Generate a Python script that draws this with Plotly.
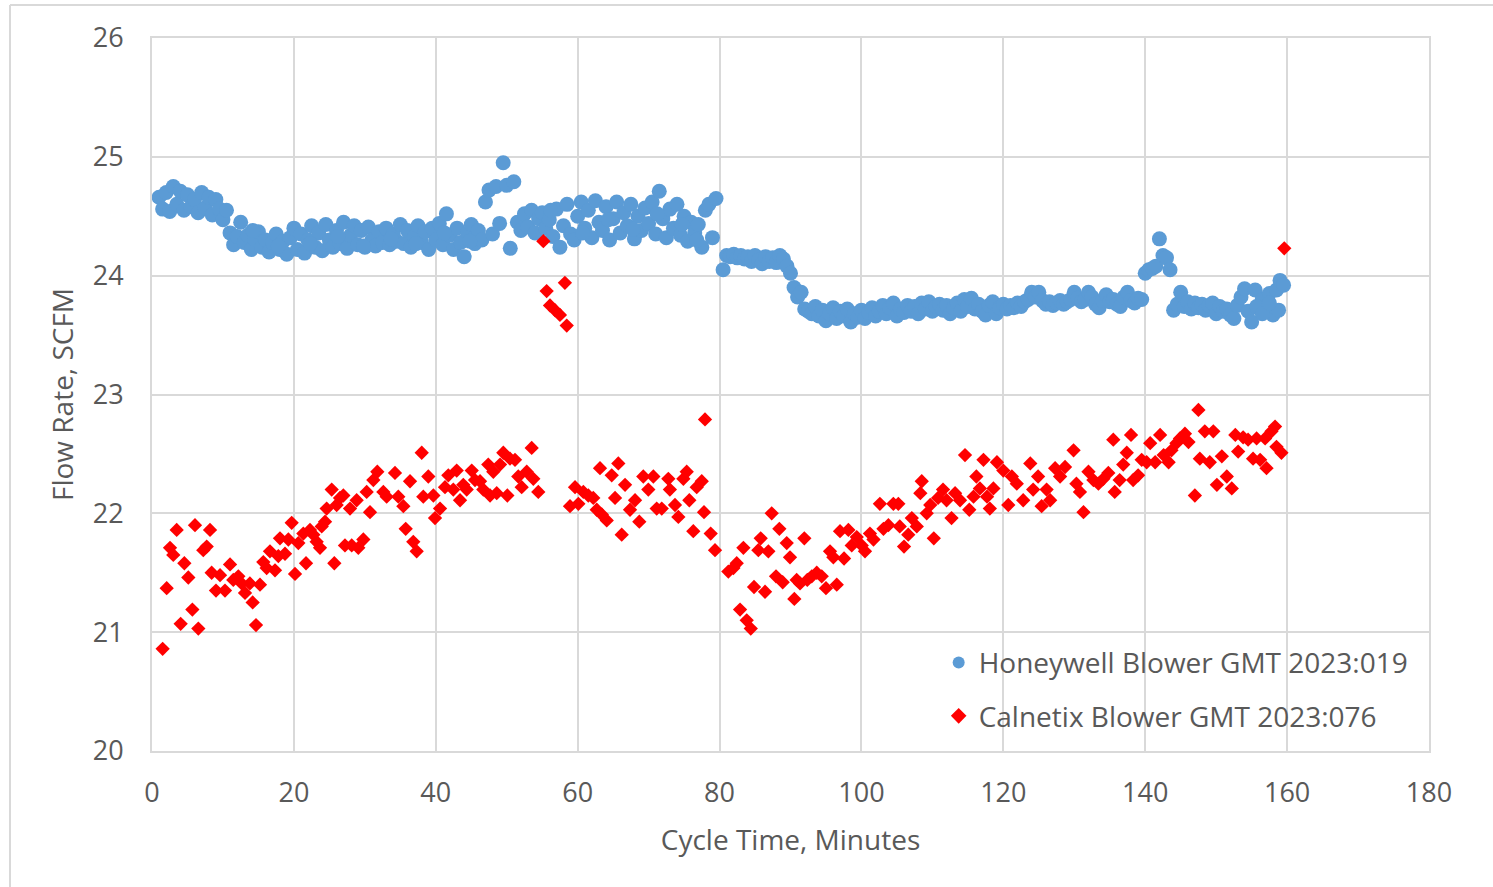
import plotly.graph_objects as go

# ---------------- data ----------------
hw_x = [
    1.0, 1.5, 2.0, 2.5, 3.0, 3.5, 4.0, 4.5, 5.0, 5.5, 6.0, 6.5, 7.0, 7.5, 8.0, 8.5, 9.0, 9.5,
    10.0, 10.5, 11.0, 11.5, 12.0, 12.5, 13.0, 13.5, 14.0, 14.5, 15.0, 15.5, 16.0, 16.5, 17.0, 17.5, 18.0, 18.5, 19.0, 19.5,
    20.0, 20.5, 21.0, 21.5, 22.0, 22.5, 23.0, 23.5, 24.0, 24.5, 25.0, 25.5, 26.0, 26.5, 27.0, 27.5, 28.0, 28.5, 29.0, 29.5,
    30.0, 30.5, 31.0, 31.5, 32.0, 32.5, 33.0, 33.5, 34.0, 34.5, 35.0, 35.5, 36.0, 36.5, 37.0, 37.5, 38.0, 38.5, 39.0, 39.5,
    40.0, 40.5, 41.0, 41.5, 42.0, 42.5, 43.0, 43.5, 44.0, 44.5, 45.0, 45.5, 46.0, 46.5, 47.0, 47.5, 48.0, 48.5, 49.0, 49.5,
    50.0, 50.5, 51.0, 51.5, 52.0, 52.5, 53.0, 53.5, 54.0, 54.5, 55.0, 55.5, 56.0, 56.5, 57.0, 57.5, 58.0, 58.5, 59.0, 59.5,
    60.0, 60.5, 61.0, 61.5, 62.0, 62.5, 63.0, 63.5, 64.0, 64.5, 65.0, 65.5, 66.0, 66.5, 67.0, 67.5, 68.0, 68.5, 69.0, 69.5,
    70.0, 70.5, 71.0, 71.5, 72.0, 72.5, 73.0, 73.5, 74.0, 74.5, 75.0, 75.5, 76.0, 76.5, 77.0, 77.5, 78.0, 78.5, 79.0, 79.5,
    80.5, 81.0, 81.5, 82.0, 82.5, 83.0, 83.5, 84.0, 84.5, 85.0, 85.5, 86.0, 86.5, 87.0, 87.5, 88.0, 88.5, 89.0, 89.5, 90.0,
    90.5, 91.0, 91.5, 92.0, 92.5, 93.0, 93.5, 94.0, 94.5, 95.0, 95.5, 96.0, 96.5, 97.0, 97.5, 98.0, 98.5, 99.0, 99.5, 100.0,
    100.5, 101.0, 101.5, 102.0, 102.5, 103.0, 103.5, 104.0, 104.5, 105.0, 105.5, 106.0, 106.5, 107.0, 107.5, 108.0, 108.5, 109.0, 109.5, 110.0,
    110.5, 111.0, 111.5, 112.0, 112.5, 113.0, 113.5, 114.0, 114.5, 115.0, 115.5, 116.0, 116.5, 117.0, 117.5, 118.0, 118.5, 119.0, 119.5, 120.0,
    120.5, 121.0, 121.5, 122.0, 122.5, 123.0, 123.5, 124.0, 124.5, 125.0, 125.5, 126.0, 126.5, 127.0, 127.5, 128.0, 128.5, 129.0, 129.5, 130.0,
    130.5, 131.0, 131.5, 132.0, 132.5, 133.0, 133.5, 134.0, 134.5, 135.0, 135.5, 136.0, 136.5, 137.0, 137.5, 138.0, 138.5, 139.0, 139.5,
    140.0, 140.5, 141.0, 141.5, 142.0, 142.5, 143.0, 143.5, 144.0, 144.5, 145.0, 145.5, 146.0, 146.5, 147.0, 147.5, 148.0, 148.5, 149.0, 149.5,
    150.0, 150.5, 151.0, 151.5, 152.0, 152.5, 153.0, 153.5, 154.0, 154.5, 155.0, 155.5, 156.0, 156.5, 157.0, 157.5, 158.0, 158.5, 159.0, 159.5,
    155.7, 158.8, 156.5, 157.5,
    14.2, 17.8, 22.3, 26.2, 29.8, 33.7, 37.2, 41.2, 44.8, 56.2, 60.7, 64.3, 67.8, 71.2, 74.7, 76.8,
]
hw_y = [
    24.66, 24.56, 24.70, 24.54, 24.75, 24.60, 24.71, 24.55, 24.68, 24.58, 24.64, 24.53, 24.70, 24.57, 24.66, 24.51, 24.64, 24.56,
    24.47, 24.55, 24.36, 24.26, 24.33, 24.45, 24.28, 24.34, 24.22, 24.31, 24.37, 24.24, 24.30, 24.20, 24.28, 24.35, 24.22, 24.29, 24.18, 24.32,
    24.40, 24.22, 24.35, 24.19, 24.30, 24.42, 24.24, 24.36, 24.21, 24.43, 24.30, 24.24, 24.38, 24.27, 24.45, 24.23, 24.34, 24.42, 24.26, 24.38,
    24.24, 24.41, 24.30, 24.25, 24.37, 24.28, 24.40, 24.26, 24.35, 24.29, 24.43, 24.27, 24.38, 24.24, 24.33, 24.42, 24.28, 24.37, 24.22, 24.40,
    24.30, 24.44, 24.26, 24.52, 24.34, 24.22, 24.40, 24.28, 24.16, 24.36, 24.43, 24.27, 24.38, 24.30, 24.62, 24.72, 24.35, 24.75, 24.44, 24.95,
    24.76, 24.23, 24.79, 24.45, 24.38, 24.52, 24.41, 24.55, 24.36, 24.48, 24.53, 24.40, 24.47, 24.33, 24.56, 24.24, 24.42, 24.60, 24.35, 24.30,
    24.50, 24.62, 24.40, 24.55, 24.32, 24.63, 24.45, 24.38, 24.58, 24.30, 24.48, 24.62, 24.36, 24.53, 24.42, 24.60, 24.31, 24.50, 24.38, 24.57,
    24.44, 24.62, 24.35, 24.71, 24.48, 24.32, 24.56, 24.40, 24.60, 24.34, 24.50, 24.29, 24.45, 24.36, 24.43, 24.24, 24.55, 24.60, 24.32, 24.65,
    24.05, 24.17, 24.16, 24.18, 24.15, 24.17, 24.14, 24.16, 24.12, 24.17, 24.13, 24.10, 24.16, 24.12, 24.15, 24.11, 24.17, 24.14, 24.08, 24.02,
    23.90, 23.82, 23.86, 23.72, 23.70, 23.68, 23.74, 23.66, 23.71, 23.62, 23.68, 23.73, 23.64, 23.70, 23.66, 23.72, 23.61, 23.68, 23.65, 23.71,
    23.64, 23.69, 23.73, 23.66, 23.70, 23.75, 23.68, 23.73, 23.77, 23.66, 23.72, 23.69, 23.75, 23.70, 23.74, 23.68, 23.77, 23.72, 23.78, 23.70,
    23.74, 23.76, 23.71, 23.75, 23.68, 23.73, 23.77, 23.70, 23.80, 23.74, 23.81, 23.72, 23.76, 23.70, 23.67, 23.75, 23.78, 23.68, 23.73, 23.76,
    23.72, 23.75, 23.73, 23.77, 23.74, 23.78, 23.80, 23.86, 23.82, 23.86, 23.79, 23.76, 23.78, 23.75, 23.77, 23.79, 23.76, 23.78, 23.80, 23.86,
    23.81, 23.78, 23.80, 23.86, 23.82, 23.76, 23.73, 23.79, 23.84, 23.78, 23.80, 23.76, 23.74, 23.82, 23.86, 23.79, 23.77, 23.81, 23.80,
    24.02, 24.05, 24.06, 24.08, 24.31, 24.17, 24.15, 24.05, 23.71, 23.76, 23.86, 23.74, 23.78, 23.72, 23.77, 23.73, 23.76, 23.71, 23.75, 23.77,
    23.68, 23.74, 23.70, 23.72, 23.67, 23.64, 23.75, 23.82, 23.89, 23.70, 23.61, 23.88, 23.74, 23.80, 23.70, 23.85, 23.67, 23.88, 23.96, 23.92,
    23.74, 23.71, 23.68, 23.77,
    24.38, 24.25, 24.27, 24.33, 24.25, 24.31, 24.27, 24.36, 24.29, 24.55, 24.36, 24.47, 24.39, 24.52, 24.43, 24.30,
]

cx_x = [
    1.5, 2.07, 2.54, 3.0, 3.48, 4.04, 4.56, 5.12, 5.69, 6.06, 6.53, 7.23, 7.71, 8.18, 8.41, 9.02, 9.59, 10.29,
    11.0, 11.46, 12.17, 12.64, 13.11, 13.8, 14.19, 14.66, 15.22, 15.69, 16.16, 16.63, 17.34, 17.81, 18.04, 18.75,
    19.22, 19.69, 20.16, 20.63, 21.33, 21.71, 22.27, 22.74, 23.21, 23.68, 23.92, 24.39, 24.62, 25.33, 25.70, 26.03,
    26.5, 26.97, 27.2, 27.91, 28.15, 28.85, 29.08, 29.79, 30.26, 30.73, 31.2, 31.76, 32.61, 33.08, 34.25, 34.72,
    35.43, 35.76, 36.37, 36.83, 37.31, 38.02, 38.24, 38.95, 39.66, 39.89,
    40.6, 41.3, 41.77, 42.47, 42.95, 43.42, 43.88, 44.36, 45.07, 45.53, 46.24, 46.7, 47.4, 47.65, 48.11, 48.59,
    49.06, 49.52, 50.09, 50.46, 51.17, 51.63, 52.11, 52.82, 53.52, 53.75, 54.45,
    55.16, 55.63, 56.1, 56.8, 57.5, 58.2, 58.46,
    58.92, 59.63, 60.1, 60.8, 61.5, 62.2, 62.69, 63.15, 63.4, 64.1, 64.8, 65.27, 65.73, 66.21, 66.68, 67.38,
    68.09, 68.69, 69.25, 69.96, 70.67, 71.14, 71.85, 72.78, 73.0, 73.72, 74.19, 74.9, 75.37, 75.74, 76.3, 76.78,
    77.49, 77.95, 77.81, 78.75, 79.36,
    81.24, 81.95, 82.42, 82.89, 83.36, 83.83, 84.4, 84.86, 85.47, 85.8, 86.41, 86.88, 87.35, 87.96, 88.43, 88.9,
    89.47, 89.93, 90.54, 90.87, 91.34, 91.95, 92.37, 93.0, 93.7, 94.4, 95.0, 95.57, 96.04, 96.52, 96.98, 97.55,
    98.16, 98.63, 99.34, 100.04, 100.5, 101.2, 101.7, 102.6, 103.1, 103.8, 104.5, 105.2, 105.4, 106.0, 106.6,
    107.1, 107.8, 108.3, 108.5, 109.2, 109.7, 110.2, 110.8, 111.5, 112.0, 112.7, 113.2, 113.9, 114.6, 115.2,
    115.8, 116.2, 116.7, 117.2, 117.7, 118.1, 118.6, 119.1,
    120.0, 120.7, 121.2, 121.9, 122.8, 123.8, 124.2, 124.9, 125.4, 126.1, 126.6, 127.3, 128.0, 128.7, 129.9,
    130.3, 130.8, 131.3, 132.0, 132.7, 133.4, 134.1, 134.8, 135.5, 135.7, 136.4, 136.9, 137.4, 138.0, 138.3,
    139.0, 139.5, 140.2, 140.7, 141.4, 142.1, 142.6, 143.3, 143.7, 144.4, 144.9, 145.6, 146.1, 147.0, 147.5,
    147.7, 148.4, 149.1, 149.6, 150.1, 150.8, 151.5, 152.2, 152.7, 153.1, 153.8, 154.5, 155.2, 155.7, 156.2,
    156.9, 157.1, 157.8, 158.3, 158.5, 159.2, 159.6,
]
cx_y = [
    20.86, 21.37, 21.71, 21.65, 21.86, 21.07, 21.58, 21.46, 21.19, 21.90, 21.03, 21.69, 21.72, 21.86, 21.50, 21.35, 21.48, 21.35,
    21.57, 21.44, 21.47, 21.41, 21.33, 21.41, 21.25, 21.06, 21.40, 21.59, 21.54, 21.68, 21.52, 21.64, 21.79, 21.66,
    21.78, 21.92, 21.49, 21.75, 21.83, 21.58, 21.86, 21.82, 21.76, 21.71, 21.89, 21.93, 22.04, 22.20, 21.58, 22.07,
    22.13, 22.15, 21.73, 22.04, 21.73, 22.11, 21.71, 21.78, 22.18, 22.01, 22.28, 22.35, 22.18, 22.14, 22.34, 22.14,
    22.06, 21.87, 22.27, 21.76, 21.68, 22.51, 22.14, 22.31, 22.15, 21.96,
    22.04, 22.22, 22.32, 22.20, 22.36, 22.11, 22.24, 22.20, 22.36, 22.28, 22.27, 22.20, 22.41, 22.15, 22.35, 22.17,
    22.41, 22.51, 22.15, 22.46, 22.45, 22.31, 22.22, 22.35, 22.55, 22.29, 22.18,
    24.29, 23.87, 23.75, 23.71, 23.67, 23.94, 23.58,
    22.06, 22.22, 22.08, 22.18, 22.15, 22.13, 22.03, 22.38, 21.99, 21.94, 22.32, 22.13, 22.42, 21.82, 22.24, 22.03,
    22.11, 21.93, 22.31, 22.20, 22.31, 22.04, 22.04, 22.29, 22.20, 22.07, 21.97, 22.29, 22.35, 22.11, 21.85, 22.22,
    22.27, 22.79, 22.01, 21.83, 21.69,
    21.51, 21.54, 21.58, 21.19, 21.71, 21.10, 21.03, 21.38, 21.69, 21.79, 21.34, 21.68, 22.00, 21.47, 21.87, 21.42,
    21.75, 21.63, 21.28, 21.44, 21.41, 21.79, 21.44, 21.47, 21.50, 21.47, 21.37, 21.68, 21.63, 21.40, 21.85, 21.62,
    21.86, 21.73, 21.80, 21.73, 21.68, 21.83, 21.78, 22.08, 21.87, 21.90, 22.08, 22.08, 21.89, 21.72, 21.82,
    21.96, 21.89, 22.17, 22.27, 22.00, 22.07, 21.79, 22.13, 22.20, 22.11, 21.96, 22.17, 22.11, 22.49, 22.03,
    22.14, 22.31, 22.21, 22.45, 22.14, 22.04, 22.21, 22.43,
    22.36, 22.07, 22.31, 22.25, 22.11, 22.42, 22.20, 22.31, 22.06, 22.20, 22.11, 22.38, 22.31, 22.39, 22.53,
    22.25, 22.18, 22.01, 22.35, 22.28, 22.25, 22.29, 22.34, 22.62, 22.18, 22.28, 22.41, 22.51, 22.66, 22.28,
    22.32, 22.45, 22.43, 22.59, 22.43, 22.66, 22.49, 22.43, 22.53, 22.59, 22.63, 22.67, 22.60, 22.15, 22.87,
    22.46, 22.69, 22.43, 22.69, 22.24, 22.48, 22.31, 22.21, 22.66, 22.52, 22.64, 22.62, 22.46, 22.63, 22.45,
    22.63, 22.38, 22.69, 22.73, 22.56, 22.51, 24.23,
]

series_names = ["Honeywell Blower GMT 2023:019", "Calnetix Blower GMT 2023:076"]
x_title = "Cycle Time, Minutes"
y_title = "Flow Rate, SCFM"
x_ticks = [0, 20, 40, 60, 80, 100, 120, 140, 160, 180]
y_ticks = [20, 21, 22, 23, 24, 25, 26]

# ---------------- figure ----------------
FONT = "Open Sans, Liberation Sans, sans-serif"
TXT = "#595959"
GRID = "#d9d9d9"

fig = go.Figure()
fig.add_trace(go.Scatter(
    x=hw_x, y=hw_y, mode="markers", name=series_names[0], legendgroup="a",
    marker=dict(symbol="circle", size=15, color="#5B9BD5", line=dict(width=0)),
))
fig.add_trace(go.Scatter(
    x=cx_x, y=cx_y, mode="markers", name=series_names[1], legendgroup="b",
    marker=dict(symbol="diamond", size=11, color="#FF0000", line=dict(width=0)),
))

fig.update_layout(
    width=1493, height=887,
    margin=dict(l=152, r=64, t=38, b=136),
    paper_bgcolor="white", plot_bgcolor="white",
    font=dict(family=FONT, color=TXT, size=27),
    showlegend=True,
    legend=dict(
        x=0.988, y=0.0144, xanchor="right", yanchor="bottom",
        bgcolor="rgba(255,255,255,0)", font=dict(size=28, color=TXT),
        tracegroupgap=14, itemsizing="constant",
    ),
    xaxis=dict(
        range=[0, 180], tickvals=x_ticks, showgrid=True, gridcolor=GRID, gridwidth=2,
        showline=True, linecolor=GRID, linewidth=2, mirror=True, zeroline=False,
        ticks="", ticklabelstandoff=17, tickfont=dict(size=27, color=TXT),
        title=dict(text=x_title, font=dict(size=28, color=TXT), standoff=21),
    ),
    yaxis=dict(
        range=[20, 26], tickvals=y_ticks, showgrid=True, gridcolor=GRID, gridwidth=2,
        showline=True, linecolor=GRID, linewidth=2, mirror=True, zeroline=False,
        ticks="", ticklabelstandoff=21, tickfont=dict(size=27, color=TXT),
        title=dict(text=y_title, font=dict(size=28, color=TXT), standoff=11),
    ),
    shapes=[
        dict(type="line", xref="paper", yref="paper", x0=-0.1112, x1=1.06, y0=1.0463, y1=1.0463,
             line=dict(color=GRID, width=2)),
        dict(type="line", xref="paper", yref="paper", x0=-0.1112, x1=-0.1112, y0=1.0463, y1=-0.2,
             line=dict(color=GRID, width=2)),
    ],
)

fig.write_html("out.html", config={"displayModeBar": False},
               post_script="document.body.style.margin='0';")
